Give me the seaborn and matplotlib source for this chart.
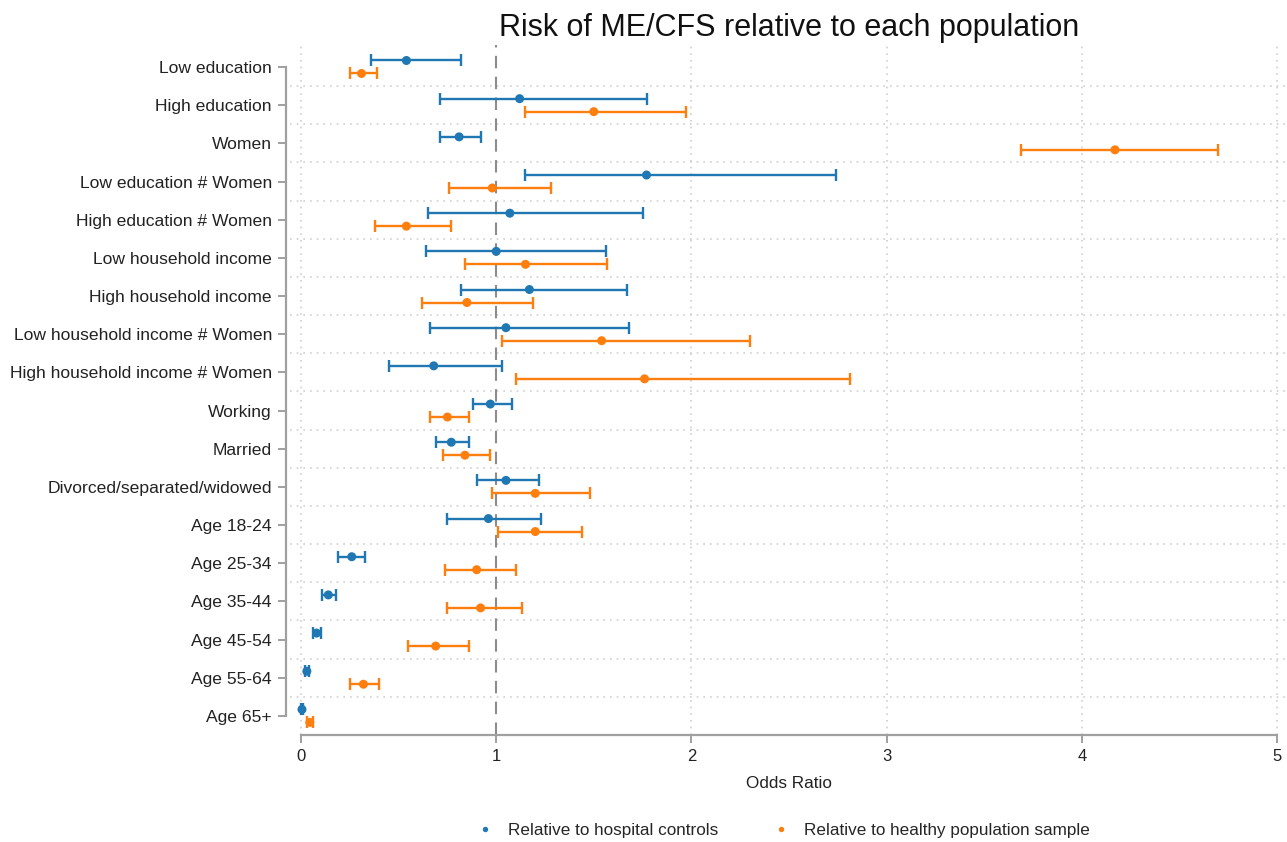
import numpy as np
import pandas as pd
import matplotlib
matplotlib.use("Agg")
import matplotlib.pyplot as plt
import seaborn as sns

categories = ["Low education", "High education", "Women", "Low education # Women",
              "High education # Women", "Low household income", "High household income",
              "Low household income # Women", "High household income # Women", "Working",
              "Married", "Divorced/separated/widowed", "Age 18-24", "Age 25-34",
              "Age 35-44", "Age 45-54", "Age 55-64", "Age 65+"]

hosp_or = [0.54, 1.12, 0.81, 1.77, 1.07, 1.00, 1.17, 1.05, 0.68, 0.97, 0.77, 1.05,
           0.96, 0.26, 0.14, 0.08, 0.03, 0.005]
hosp_lo = [0.36, 0.71, 0.71, 1.15, 0.65, 0.64, 0.82, 0.66, 0.45, 0.88, 0.69, 0.90,
           0.75, 0.19, 0.11, 0.06, 0.02, 0.0]
hosp_hi = [0.82, 1.77, 0.92, 2.74, 1.75, 1.56, 1.67, 1.68, 1.03, 1.08, 0.86, 1.22,
           1.23, 0.33, 0.18, 0.10, 0.04, 0.01]

healthy_or = [0.31, 1.50, 4.17, 0.98, 0.54, 1.15, 0.85, 1.54, 1.76, 0.75, 0.84, 1.20,
              1.20, 0.90, 0.92, 0.69, 0.32, 0.045]
healthy_lo = [0.25, 1.15, 3.69, 0.76, 0.38, 0.84, 0.62, 1.03, 1.10, 0.66, 0.73, 0.98,
              1.01, 0.74, 0.75, 0.55, 0.25, 0.03]
healthy_hi = [0.39, 1.97, 4.70, 1.28, 0.77, 1.57, 1.19, 2.30, 2.81, 0.86, 0.97, 1.48,
              1.44, 1.10, 1.13, 0.86, 0.40, 0.06]

series_names = ["Relative to hospital controls", "Relative to healthy population sample"]
xticks = [0, 1, 2, 3, 4, 5]

sns.set_theme(style="white")
plt.rcParams['font.family'] = ['Liberation Sans', 'DejaVu Sans']

colors = ["#1f77b4", "#ff7f0e"]
offsets = [-0.17, 0.17]

pos = np.arange(len(categories))
df = pd.concat([
    pd.DataFrame({"y": pos + offsets[0], "OR": hosp_or, "lo": hosp_lo, "hi": hosp_hi,
                  "series": series_names[0]}),
    pd.DataFrame({"y": pos + offsets[1], "OR": healthy_or, "lo": healthy_lo, "hi": healthy_hi,
                  "series": series_names[1]}),
])

fig = plt.figure(figsize=(12.87, 8.42), dpi=100)
ax = fig.add_axes([290/1287, 1-735/842, 1-290/1287, (735-45)/842])

grid_c = "#cfcfcf"
for g in np.arange(0.5, len(categories) - 1, 1.0):
    ax.axhline(g, color=grid_c, lw=1.2, ls=(0, (1, 3)), zorder=0)
for xv in [0, 2, 3, 4, 5]:
    ax.axvline(xv, color=grid_c, lw=1.2, ls=(0, (1, 3)), zorder=0)
ax.axvline(1, color="#8c8c8c", lw=1.5, ls=(0, (6, 4)), zorder=1)

for name, c in zip(series_names, colors):
    d = df[df.series == name]
    ax.errorbar(d["OR"], d["y"], xerr=[d["OR"] - d["lo"], d["hi"] - d["OR"]],
                fmt="none", ecolor=c, elinewidth=1.7, capsize=4, capthick=1.7, zorder=2)

sns.scatterplot(data=df, x="OR", y="y", hue="series", palette=colors, s=42,
                edgecolor="none", ax=ax, zorder=3, legend=True)

ax.set_xlim((290 - 301) / 195.2, (1287 - 301) / 195.2)
ax.set_ylim(len(categories) - 0.5, -0.576)

for s in ["top", "right"]:
    ax.spines[s].set_visible(False)
ax.spines["left"].set_bounds(0, len(categories) - 1)
ax.spines["left"].set_position(("outward", 3))
ax.spines["bottom"].set_bounds(0, 5)
for s in ["left", "bottom"]:
    ax.spines[s].set_color("#a0a0a0")
    ax.spines[s].set_linewidth(1.6)
ax.tick_params(axis="both", which="both", length=6, width=1.4, color="#a0a0a0",
               left=True, bottom=True, pad=4, labelcolor="#222222")
ax.tick_params(axis="y", labelsize=12.6)
ax.tick_params(axis="x", labelsize=12)

ax.set_yticks(pos)
ax.set_yticklabels(categories)
ax.set_xticks(xticks)
ax.set_xticklabels([str(t) for t in xticks])
ax.set_xlabel("Odds Ratio", fontsize=12.3, color="#222222", labelpad=9)
ax.set_ylabel("")

handles, labels = ax.get_legend_handles_labels()
ax.get_legend().remove()
fig.legend(handles, labels, loc="center", bbox_to_anchor=(783/1287, 1-830/842),
           ncol=2, frameon=False, fontsize=12.3, markerscale=0.6, handlelength=1.0,
           handletextpad=0.85, columnspacing=3.2)

fig.text(789/1287, 1-28/842, "Risk of ME/CFS relative to each population",
         ha="center", va="center", fontsize=22, color="#111111")

fig.savefig("out.png", dpi=100)
